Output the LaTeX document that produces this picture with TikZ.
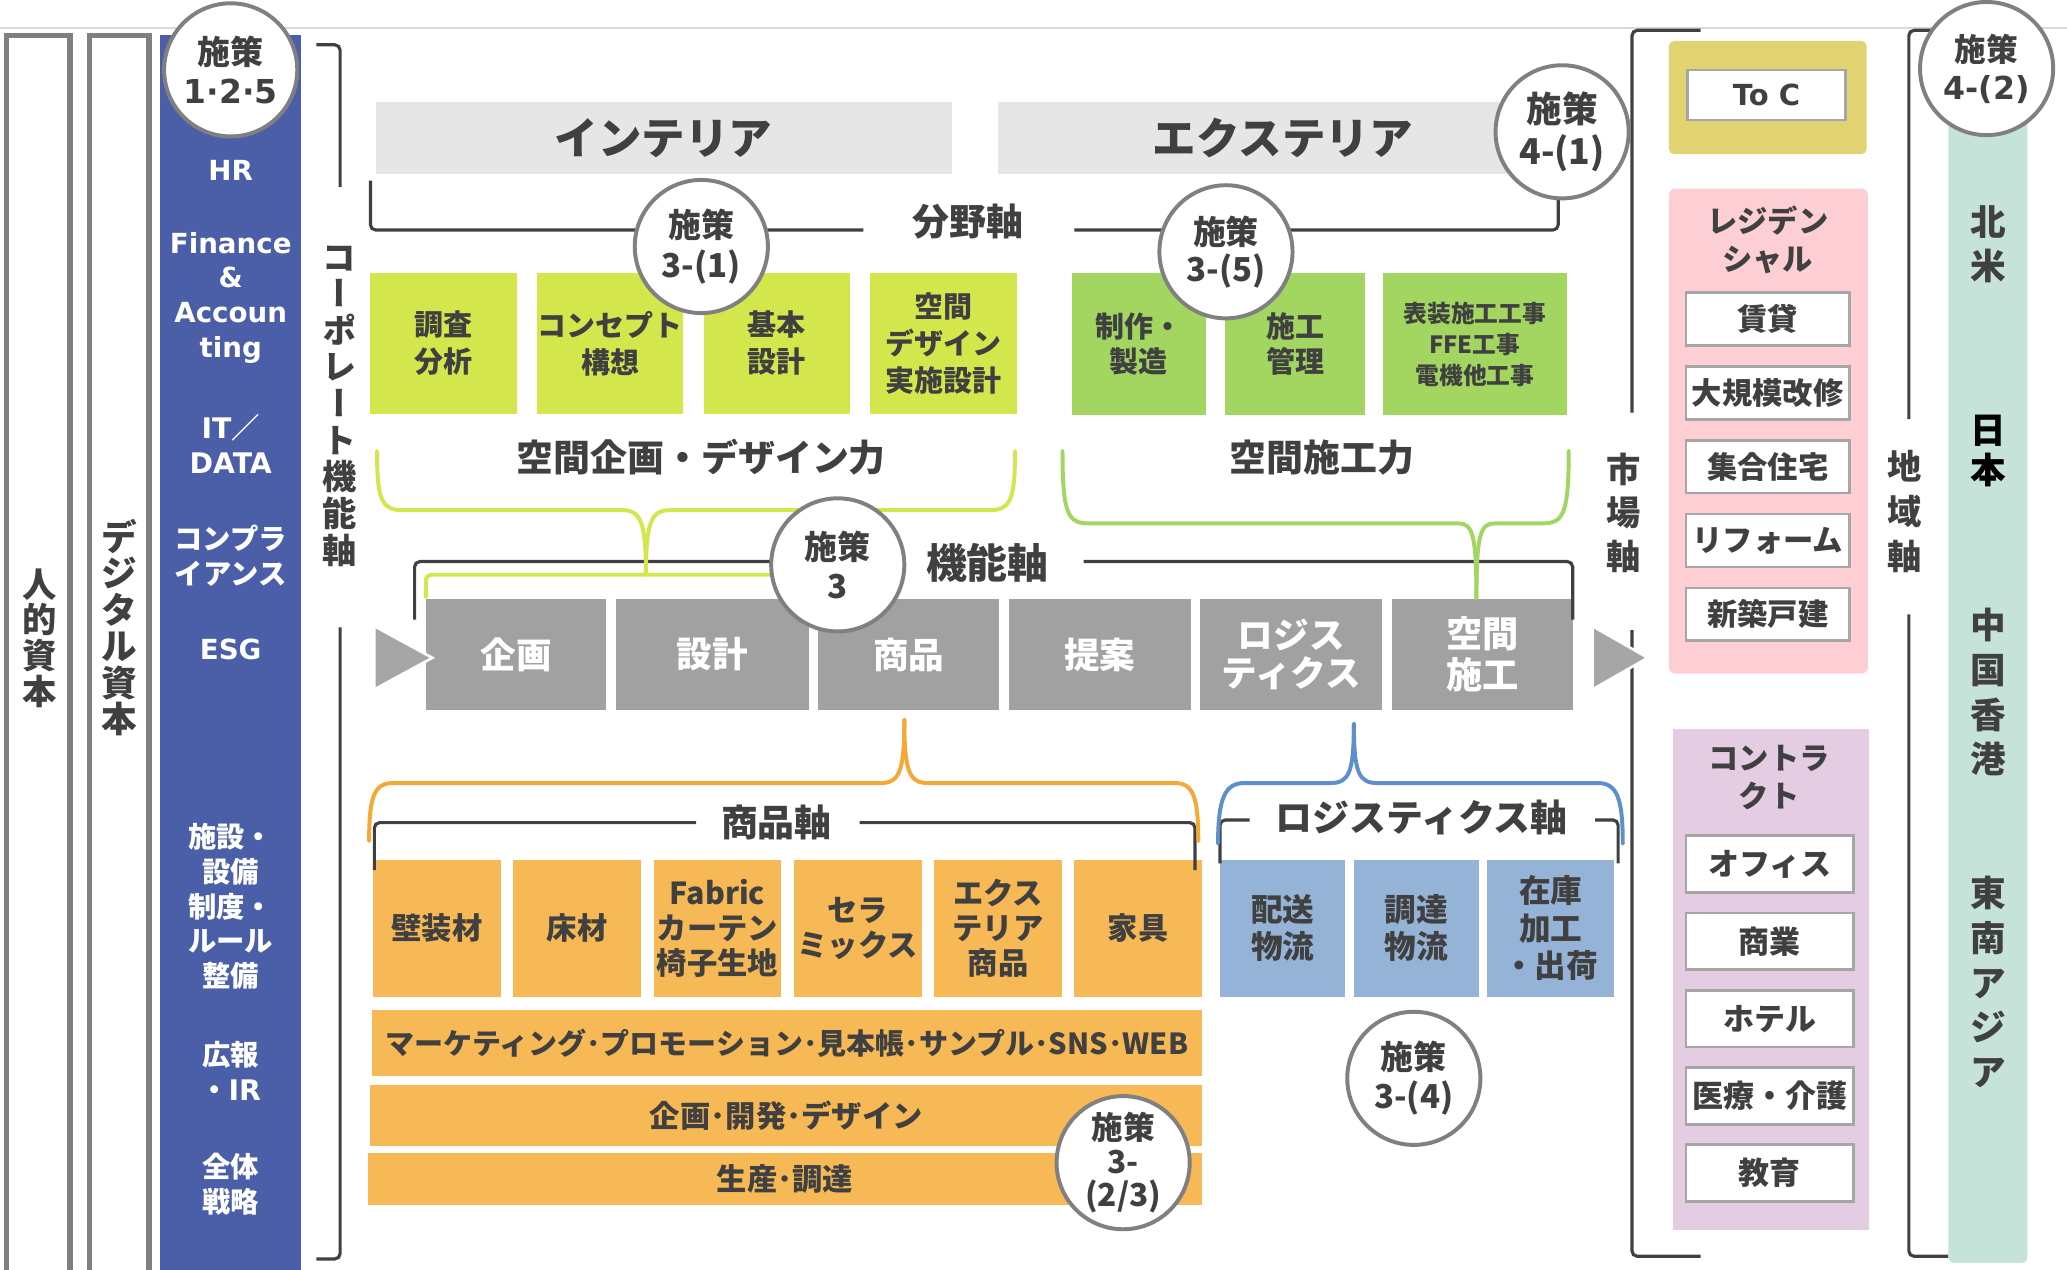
\documentclass[tikz,border=0pt]{standalone}
\usepackage{fontspec}
\setmainfont{Noto Sans CJK JP}
\newfontfamily\vjp{Noto Sans CJK JP}[RawFeature=+vert]
\newfontfamily\verd{DejaVu Sans}
\usetikzlibrary{positioning}
\newcommand{\fsz}[2]{\fontsize{#1}{#2}\selectfont}
\definecolor{ink}{HTML}{404040}
\definecolor{rimgray}{HTML}{808080}
\definecolor{boxrim}{HTML}{A6A6A6}
\definecolor{topline}{HTML}{D9D9D9}
\definecolor{corpblue}{HTML}{4B5FA9}
\definecolor{hdrgray}{HTML}{E6E6E6}
\definecolor{lgreen}{HTML}{D3E74D}
\definecolor{dgreen}{HTML}{A2D661}
\definecolor{procgray}{HTML}{A0A1A0}
\definecolor{tri}{HTML}{A6A6A6}
\definecolor{orbox}{HTML}{F7B955}
\definecolor{orline}{HTML}{F4A835}
\definecolor{blbox}{HTML}{95B3D7}
\definecolor{blline}{HTML}{5E8ECC}
\definecolor{tocyel}{HTML}{E2D372}
\definecolor{respink}{HTML}{FDCFD4}
\definecolor{conpur}{HTML}{E4CCE3}
\definecolor{regteal}{HTML}{C6E3D9}
\begin{document}
\begin{tikzpicture}[x=1pt,y=-1pt]
\tikzstyle{cell}=[inner sep=0pt,align=center,text=ink,font=\bfseries\fsz{23}{27}]
\tikzstyle{lgbox}=[cell,fill=lgreen,minimum width=111pt,minimum height=107pt,font=\bfseries\fsz{22}{28}]
\tikzstyle{dgbox}=[cell,fill=dgreen,minimum height=108pt,font=\bfseries\fsz{22}{27}]
\tikzstyle{proc}=[cell,fill=procgray,text=white,minimum width=137pt,minimum height=84pt,font=\bfseries\fsz{27}{29}]
\tikzstyle{obox}=[cell,fill=orbox,minimum width=97pt,minimum height=104pt,font=\bfseries\fsz{23}{26.5}]
\tikzstyle{obar}=[cell,fill=orbox,font=\bfseries\fsz{22}{26}]
\tikzstyle{bbox}=[cell,fill=blbox,minimum width=95pt,minimum height=104pt,font=\bfseries\fsz{24}{28.5}]
\tikzstyle{hdr}=[cell,fill=hdrgray,minimum height=55pt,font=\bfseries\fsz{33}{36}]
\tikzstyle{axlabel}=[inner sep=0pt,align=center,text=ink,font=\bfseries\fsz{28}{30}]
\tikzstyle{vaxis}=[inner sep=0pt,align=center,text=ink,font=\bfseries\fsz{26}{27.8}]
\tikzstyle{sak}=[circle,draw=rimgray,line width=3pt,fill=white,minimum size=101pt,inner sep=0pt,align=center,text=ink,font=\bfseries\fsz{25}{30}]
\tikzstyle{corp}=[inner sep=0pt,align=center,text=white,font=\bfseries\fsz{21.5}{26.5}]
\tikzstyle{corpl}=[corp,font=\verd\bfseries\fsz{21}{26.5}]
\tikzstyle{wbox}=[cell,fill=white,draw=boxrim,line width=2pt,minimum width=124pt,minimum height=40pt,font=\bfseries\fsz{23}{26}]
\tikzstyle{bracket}=[draw=ink,line width=2.4pt,rounded corners=4pt]
\tikzstyle{curly}=[line width=3pt,line cap=round]
\useasboundingbox (0,0) rectangle (1568,963);

\draw[topline,line width=1.5pt] (0,21) -- (1568,21);

% capital columns
\draw[rimgray,line width=4pt] (5,27) rectangle (53,990);
\draw[rimgray,line width=4pt] (68,27) rectangle (113,990);
\fill[corpblue] (121,26.5) rectangle (228,990);
\node[vaxis,font=\bfseries\fsz{26}{27}] (jinteki) at (30,484) {人\\的\\資\\本};
\node[vaxis,font=\bfseries\fsz{27}{27.7}] (digital) at (90.5,476) {デ\\ジ\\タ\\ル\\資\\本};

% corporate functions
\node[corpl] (hr) at (175,129) {HR};
\node[corpl] (fin) at (175,226) {Finance\\\&\\Accoun\\ting};
\node[corp] (it) at (175,337) {{\verd IT}／\\{\verd DATA}};
\node[corp] (compl) at (175,421.5) {コンプラ\\イアンス};
\node[corpl] (esg) at (175,493) {ESG};
\node[corp] (shisetsu) at (175,687.5) {施設・\\設備\\制度・\\ルール\\整備};
\node[corp] (koho) at (175,812) {広報\\・{\verd IR}};
\node[corp] (zentai) at (175,898.5) {全体\\戦略};
\draw[bracket] (240,34) -- (258,34) -- (258,142);
\draw[bracket] (258,476) -- (258,955) -- (240,955);
\node[vaxis,font=\vjp\bfseries\fsz{26}{27.8}] (corpax) at (258,308) {コ\\ー\\ポ\\レ\\ー\\ト\\機\\能\\軸};

% fields
\node[hdr,minimum width=437pt] (interior) at (503.5,104.5) {インテリア};
\node[hdr,minimum width=432pt] (exterior) at (973,104.5) {エクステリア};
\draw[bracket] (281,137) -- (281,174.5) -- (655,174.5);
\draw[bracket] (815,174.5) -- (1182,174.5) -- (1182,150);
\node[axlabel] (bunya) at (734,168) {分野軸};

\node[lgbox] (chosa) at (336.5,260.5) {調査\\分析};
\node[lgbox,right=15pt of chosa] (concept) {コンセプト\\構想};
\node[lgbox,right=15pt of concept] (kihon) {基本\\設計};
\node[lgbox,right=15pt of kihon] (jisshi) {空間\\デザイン\\実施設計};
\node[dgbox,minimum width=102pt] (seisaku) at (864,261) {制作・\\製造};
\node[dgbox,minimum width=106pt,right=14pt of seisaku] (kanri) {施工\\管理};
\node[dgbox,minimum width=140pt,right=13pt of kanri,font=\bfseries\fsz{18}{23.5}] (hyoso) {表装施工工事\\FFE工事\\電機他工事};
\node[axlabel] (design) at (532,347) {空間企画・デザイン力};
\node[axlabel] (sekouryoku) at (1003,347) {空間施工力};

% functions
\node[proc] (kikaku) at (391.5,496.5) {企画};
\node[proc,minimum width=146pt,right=7pt of kikaku] (sekkei) {設計};
\node[proc,right=7pt of sekkei] (shohin) {商品};
\node[proc,minimum width=138pt,right=7pt of shohin] (teian) {提案};
\node[proc,minimum width=138pt,right=7pt of teian] (logi) {ロジス\\ティクス};
\node[proc,right=7pt of logi,font=\bfseries\fsz{27.5}{31}] (kukansekou) {空間\\施工};
\draw[bracket] (314.5,470) -- (314.5,426) -- (590,426);
\draw[bracket] (822,426) -- (1193,426) -- (1193,470);
\node[axlabel,font=\bfseries\fsz{31}{34}] (kinou) at (749,427) {機能軸};
\filldraw[fill=tri,draw=white,line width=2pt] (284,475) -- (328,499) -- (284,523) -- cycle;

\draw[curly,lgreen] (286,342) .. controls (286,381) and (290,387) .. (306,387) -- (472,387) .. controls (486,387) and (490,396) .. (490,436);
\draw[curly,lgreen] (770,342) .. controls (770,381) and (766,387) .. (750,387) -- (508,387) .. controls (494,387) and (490,396) .. (490,436);
\draw[curly,lgreen,rounded corners=4pt] (323,453) -- (323,436) -- (590,436);
\draw[curly,dgreen] (806,342) .. controls (806,390) and (810,397) .. (826,397) -- (1106,397) .. controls (1117,397) and (1120,405) .. (1120,454);
\draw[curly,dgreen] (1190,342) .. controls (1190,390) and (1186,397) .. (1170,397) -- (1134,397) .. controls (1123,397) and (1120,405) .. (1120,454);

% products
\node[obox] (hekiso) at (331.5,704) {壁装材};
\node[obox,right=9pt of hekiso] (yuka) {床材};
\node[obox,right=9pt of yuka] (fabric) {Fabric\\カーテン\\椅子生地};
\node[obox,right=9pt of fabric] (sera) {セラ\\ミックス};
\node[obox,right=9pt of sera] (extshohin) {エクス\\テリア\\商品};
\node[obox,right=9pt of extshohin] (kagu) {家具};
\node[obar,minimum width=630pt,minimum height=50pt] (mkt) at (597,791) {マーケティング･プロモーション･見本帳･サンプル･SNS･WEB};
\node[obar,minimum width=631pt,minimum height=46pt,font=\bfseries\fsz{23}{26}] (kaihatsu) at (596.5,846) {企画･開発･デザイン};
\node[obar,minimum width=633pt,minimum height=39pt,font=\bfseries\fsz{23}{26}] (seisan) at (595.5,894.5) {生産･調達};
\draw[bracket] (284,660) -- (284,624) -- (528,624);
\draw[bracket] (652,624) -- (906.5,624) -- (906.5,660);
\node[axlabel] (shohinax) at (589,624) {商品軸};
\draw[curly,orline] (686,546) .. controls (686,586) and (682,594) .. (668,594) -- (298,594) .. controls (284,594) and (280,604) .. (280,638);
\draw[curly,orline] (686,546) .. controls (686,586) and (690,594) .. (704,594) -- (891,594) .. controls (905,594) and (909,604) .. (909,638);

% logistics
\node[bbox] (haiso) at (973,704) {配送\\物流};
\node[bbox,right=6pt of haiso] (chotatsu) {調達\\物流};
\node[bbox,minimum width=96pt,right=6pt of chotatsu] (zaiko) {在庫\\加工\\・出荷};
\draw[bracket] (925.5,655) -- (925.5,622) -- (948,622);
\draw[bracket] (1210,622) -- (1227.5,622) -- (1227.5,655);
\node[axlabel] (logiax) at (1078.5,620) {ロジスティクス軸};
\draw[curly,blline] (1027,549) .. controls (1027,587) and (1023,594) .. (1009,594) -- (944,594) .. controls (929,594) and (924,606) .. (924,640);
\draw[curly,blline] (1027,549) .. controls (1027,587) and (1031,594) .. (1045,594) -- (1212,594) .. controls (1227,594) and (1231,606) .. (1231,640);

% markets
\draw[bracket] (1290,23) -- (1238,23) -- (1238,313);
\draw[bracket] (1238,478) -- (1238,953) -- (1290,953);
\node[vaxis,font=\bfseries\fsz{26}{33}] (shijo) at (1232,389) {市\\場\\軸};
\filldraw[fill=tri,draw=white,line width=2pt] (1208,475) -- (1250,499) -- (1208,523) -- cycle;
\fill[tocyel,rounded corners=4pt] (1266,31) rectangle (1416,117);
\node[wbox,minimum width=120pt,minimum height=38pt,font=\verd\bfseries\fsz{22}{26}] (toc) at (1340,72) {To C};
\fill[respink,rounded corners=5pt] (1266,143) rectangle (1417,511);
\node[axlabel,font=\bfseries\fsz{23}{28.5}] (resi) at (1341,182) {レジデン\\シャル};
\node[wbox] (chintai) at (1341,242) {賃貸};
\node[wbox,below=14pt of chintai] (daikibo) {大規模改修};
\node[wbox,below=14pt of daikibo] (shugo) {集合住宅};
\node[wbox,below=14pt of shugo] (reform) {リフォーム};
\node[wbox,below=14pt of reform] (shinchiku) {新築戸建};
\fill[conpur] (1269,553) rectangle (1418,933);
\node[axlabel,font=\bfseries\fsz{23}{28.5}] (contract) at (1342,590) {コントラ\\クト};
\node[wbox,minimum width=127pt,minimum height=43pt,font=\bfseries\fsz{23.5}{26}] (office) at (1342.5,655.5) {オフィス};
\node[wbox,minimum width=127pt,minimum height=43pt,font=\bfseries\fsz{23.5}{26},below=13.6pt of office] (shogyo) {商業};
\node[wbox,minimum width=127pt,minimum height=43pt,font=\bfseries\fsz{23.5}{26},below=13.6pt of shogyo] (hotel) {ホテル};
\node[wbox,minimum width=127pt,minimum height=43pt,font=\bfseries\fsz{23.5}{26},below=13.6pt of hotel] (iryo) {医療・介護};
\node[wbox,minimum width=127pt,minimum height=43pt,font=\bfseries\fsz{23.5}{26},below=13.6pt of iryo] (kyoiku) {教育};

% regions
\draw[bracket] (1467,23) -- (1448,23) -- (1448,318);
\draw[bracket] (1448,466) -- (1448,953) -- (1478,953);
\node[vaxis,font=\bfseries\fsz{26}{34}] (chiiki) at (1445,388) {地\\域\\軸};
\fill[regteal,rounded corners=4pt] (1478,60) rectangle (1538,958);
\node[vaxis,font=\bfseries\fsz{27}{33.5}] (hokubei) at (1508,185.5) {北\\米};
\node[vaxis,text=black,font=\bfseries\fsz{27}{30}] (nihon) at (1508,342) {日\\本};
\node[vaxis,font=\bfseries\fsz{27}{34}] (chugoku) at (1508,525) {中\\国\\香\\港};
\node[vaxis,font=\bfseries\fsz{27}{34}] (tonan) at (1508,745) {東\\南\\ア\\ジ\\ア};

% measures
\node[sak] (s125) at (175,53) {施策\\{\verd 1·2·5}};
\node[sak,font=\bfseries\fsz{27}{32}] (s41) at (1185,100) {施策\\4-(1)};
\node[sak] (s31) at (532,187) {施策\\3-(1)};
\node[sak,font=\bfseries\fsz{25}{28}] (s35) at (930,191) {施策\\3-(5)};
\node[sak] (s3) at (635.5,428.5) {施策\\3};
\node[sak] (s34) at (1072.5,818) {施策\\3-(4)};
\node[sak,font=\bfseries\fsz{24}{25.5}] (s323) at (852,882) {施策\\3-\\(2/3)};
\node[sak,font=\bfseries\fsz{24}{29}] (s42) at (1507,52) {施策\\{\verd 4-(2)}};
\end{tikzpicture}
\end{document}
